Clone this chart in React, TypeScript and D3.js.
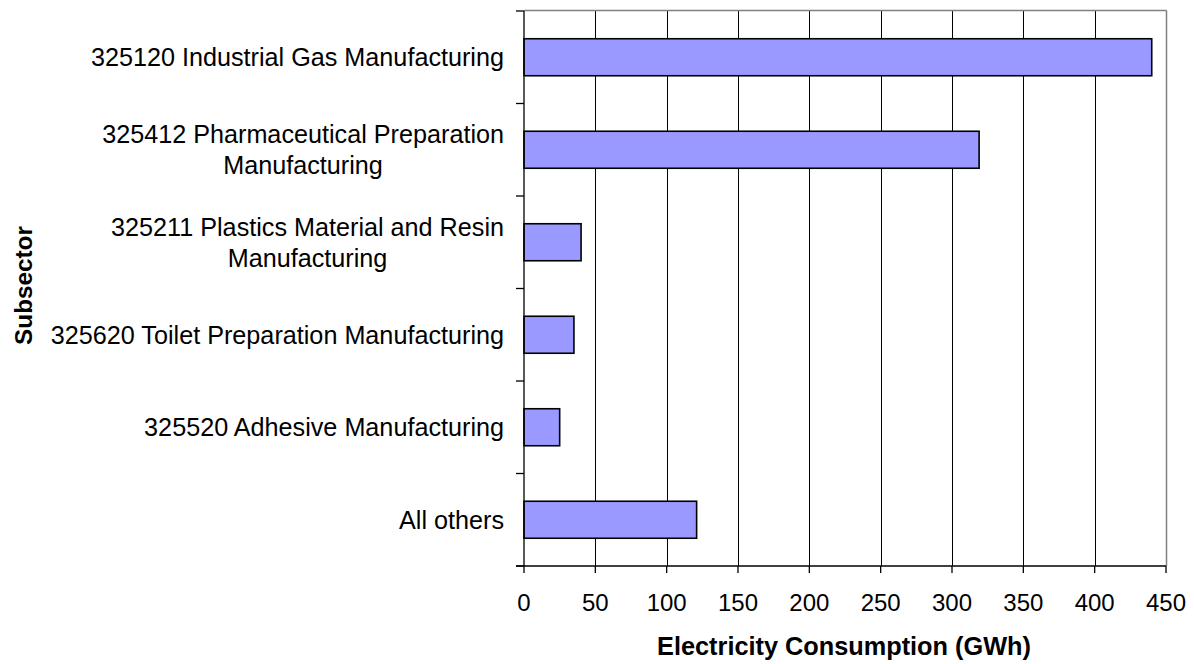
import React, { useMemo } from "react";
import * as d3 from "d3";

// Electricity consumption by subsector (GWh)
const subsectors: string[] = [
  "325120 Industrial Gas Manufacturing",
  "325412 Pharmaceutical Preparation Manufacturing",
  "325211 Plastics Material and Resin Manufacturing",
  "325620 Toilet Preparation Manufacturing",
  "325520 Adhesive Manufacturing",
  "All others",
];
const consumptionGWh: number[] = [440, 319, 40, 35, 25, 121];
const xTicks: number[] = [0, 50, 100, 150, 200, 250, 300, 350, 400, 450];

const xAxisTitle = "Electricity Consumption (GWh)";
const yAxisTitle = "Subsector";

const W = 1194;
const H = 664;
const plot = { left: 524, right: 1166, top: 11, bottom: 566 };
const FONT = "'Liberation Sans', Arial, Helvetica, sans-serif";
const LABEL_SIZE = 25.2;
const TICK_SIZE = 24;
const TITLE_SIZE = 25.3;
const LINE_H = 31;
const WRAP_WIDTH = 470;

function wrapLabel(text: string, ctx: CanvasRenderingContext2D | null): string[] {
  if (!ctx) return [text];
  const words = text.split(" ");
  const lines: string[] = [];
  let cur = "";
  for (const w of words) {
    const test = cur ? cur + " " + w : w;
    if (cur && ctx.measureText(test).width > WRAP_WIDTH) {
      lines.push(cur);
      cur = w;
    } else {
      cur = test;
    }
  }
  if (cur) lines.push(cur);
  return lines;
}

export default function App() {
  const x = d3.scaleLinear().domain([0, 450]).range([plot.left, plot.right]);
  const y = d3
    .scaleBand<string>()
    .domain(subsectors)
    .range([plot.top, plot.bottom])
    .paddingInner(0.6)
    .paddingOuter(0.3);
  const step = y.step();

  const wrapped = useMemo(() => {
    const canvas = document.createElement("canvas");
    const ctx = canvas.getContext("2d");
    if (ctx) ctx.font = `${LABEL_SIZE}px ${FONT}`;
    return subsectors.map((s) => {
      const lines = wrapLabel(s, ctx);
      const widths = lines.map((l) => (ctx ? ctx.measureText(l).width : 0));
      return { lines, blockW: Math.max(...widths) };
    });
  }, []);

  const capH = LABEL_SIZE * 0.716;
  const labelRight = 504;
  const boundaries = d3.range(subsectors.length + 1).map((i) => plot.top + i * step);

  return (
    <svg
      width={W}
      height={H}
      style={{ position: "absolute", left: 0, top: 0, background: "#fff" }}
      fontFamily={FONT}
    >
      <rect x={0} y={0} width={W} height={H} fill="#fff" />

      {/* vertical gridlines */}
      {xTicks
        .filter((t) => t > 0 && t < 450)
        .map((t) => (
          <line
            key={`g${t}`}
            x1={Math.round(x(t)) + 0.5}
            x2={Math.round(x(t)) + 0.5}
            y1={plot.top}
            y2={plot.bottom}
            stroke="#000"
            strokeWidth={1}
          />
        ))}

      {/* plot frame top / right */}
      <line x1={plot.left} x2={plot.right + 0.5} y1={plot.top - 0.5} y2={plot.top - 0.5} stroke="#808080" strokeWidth={1.5} />
      <line x1={plot.right + 0.5} x2={plot.right + 0.5} y1={plot.top - 0.5} y2={plot.bottom} stroke="#808080" strokeWidth={1.5} />

      {/* bars */}
      {subsectors.map((s, i) => (
        <rect
          key={s}
          x={x(0)}
          y={y(s)!}
          width={x(consumptionGWh[i]) - x(0)}
          height={y.bandwidth()}
          fill="#9999FF"
          stroke="#000"
          strokeWidth={1.6}
        />
      ))}

      {/* y axis */}
      <line x1={plot.left} x2={plot.left} y1={plot.top} y2={plot.bottom} stroke="#000" strokeWidth={1.3} />
      {boundaries.map((b, i) => (
        <line key={`yt${i}`} x1={plot.left - 8} x2={plot.left} y1={b} y2={b} stroke="#000" strokeWidth={1.3} />
      ))}

      {/* x axis */}
      <line x1={plot.left - 8} x2={plot.right} y1={plot.bottom} y2={plot.bottom} stroke="#000" strokeWidth={1.3} />
      {xTicks.map((t) => (
        <line key={`xt${t}`} x1={x(t)} x2={x(t)} y1={plot.bottom} y2={plot.bottom + 7} stroke="#000" strokeWidth={1.3} />
      ))}
      {xTicks.map((t) => (
        <text key={`xl${t}`} x={x(t)} y={611} fontSize={TICK_SIZE} textAnchor="middle" fill="#000">
          {t}
        </text>
      ))}

      {/* category labels */}
      {subsectors.map((s, i) => {
        const { lines, blockW } = wrapped[i];
        const center = (y(s) as number) + y.bandwidth() / 2;
        const firstBase = center - ((lines.length - 1) * LINE_H) / 2 + capH / 2;
        const single = lines.length === 1;
        const cx = labelRight - blockW / 2;
        return (
          <text
            key={`cl${i}`}
            fontSize={LABEL_SIZE}
            fill="#000"
            textAnchor={single ? "end" : "middle"}
          >
            {lines.map((l, j) => (
              <tspan key={j} x={single ? labelRight : cx} y={firstBase + j * LINE_H}>
                {l}
              </tspan>
            ))}
          </text>
        );
      })}

      {/* axis titles */}
      <text
        x={(plot.left + plot.right) / 2 - 1}
        y={655}
        fontSize={TITLE_SIZE}
        fontWeight="bold"
        textAnchor="middle"
        fill="#000"
      >
        {xAxisTitle}
      </text>
      <text
        transform={`translate(${32},${(plot.top + plot.bottom) / 2 - 3}) rotate(-90)`}
        fontSize={TITLE_SIZE - 1}
        fontWeight="bold"
        textAnchor="middle"
        fill="#000"
      >
        {yAxisTitle}
      </text>
    </svg>
  );
}
